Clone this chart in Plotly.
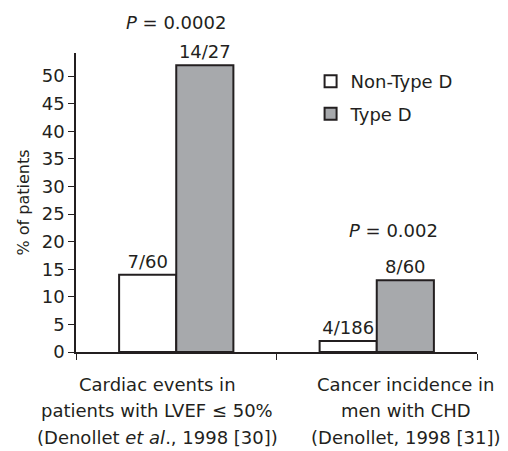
import plotly.graph_objects as go

groups = ["Cardiac", "Cancer"]
group_lines = [
    ["Cardiac events in", "patients with LVEF \u2264 50%", "(Denollet <i>et al</i>., 1998 [30])"],
    ["Cancer incidence in", "men with CHD", "(Denollet, 1998 [31])"],
]
non_type_d = [14, 2]
type_d = [52, 13]
non_type_d_labels = ["7/60", "4/186"]
type_d_labels = ["14/27", "8/60"]
p_values = ["<i>P</i> = 0.0002", "<i>P</i> = 0.002"]
p_heights = [59.8, 22.1]
y_max = 54.2

ink = "#231f20"
font = dict(family="DejaVu Sans, sans-serif", size=18, color=ink)
edge = dict(color=ink, width=2)

fig = go.Figure()
fig.add_bar(x=groups, y=non_type_d, name="Non-Type D", text=non_type_d_labels,
            textposition="outside", marker=dict(color="white", line=edge),
            cliponaxis=False, legendgroup="a")
fig.add_bar(x=groups, y=type_d, name="Type D", text=type_d_labels,
            textposition="outside", marker=dict(color="#a7a9ac", line=edge),
            cliponaxis=False, legendgroup="b")

for g, p, h, dx in zip(groups, p_values, p_heights, [0, 17]):
    fig.add_annotation(x=g, xref="x", y=h / y_max, yref="paper", text=p, xshift=dx,
                       showarrow=False, font=font, yanchor="middle")

# category labels, drawn line by line (the original spaces them a bit wider)
label_centres = [-0.095, 1.145]
for cx, lines in zip(label_centres, group_lines):
    for i, line in enumerate(lines):
        fig.add_annotation(x=cx, xref="x", y=0, yref="paper", yshift=-32 - 26.5 * i,
                           text=line, showarrow=False, font=font, yanchor="middle")

# the page body adds an 8px offset, so the figure is 8px smaller than the window
fig.update_layout(
    width=500, height=443,
    margin=dict(l=68, r=31, t=45, b=99),
    paper_bgcolor="white", plot_bgcolor="white",
    font=font,
    barmode="group", bargap=0.43, bargroupgap=0,
    legend=dict(x=0.585, y=0.966, xanchor="left", yanchor="top",
                font=dict(size=18), itemwidth=30, tracegroupgap=6,
                bgcolor="rgba(0,0,0,0)"),
    showlegend=True,
)
fig.update_traces(textfont=dict(size=18, color=ink))
fig.update_xaxes(range=[-0.5, 1.5], showline=True, linecolor=ink, linewidth=1.5,
                 automargin=False, ticks="outside", tickson="boundaries", ticklen=6,
                 tickcolor=ink, showticklabels=False)
fig.update_yaxes(range=[0, y_max], dtick=5, showline=True, linecolor=ink,
                 linewidth=1.5, ticks="outside", ticklen=6, tickcolor=ink,
                 automargin=False, showgrid=False, zeroline=False,
                 tickfont=dict(size=18),
                 title=dict(text="% of patients", font=dict(size=16), standoff=8))

fig.write_html("out.html")
